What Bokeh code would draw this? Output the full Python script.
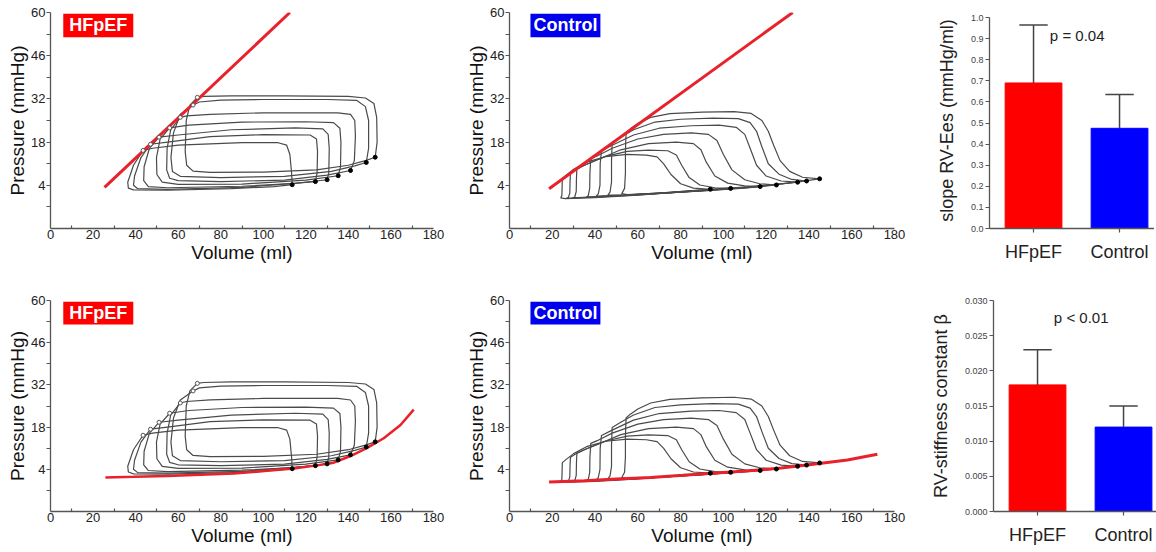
from bokeh.plotting import figure
from bokeh.layouts import column, row
from bokeh.models import Range1d, FixedTicker, Label, BoxAnnotation, NumeralTickFormatter
from bokeh.embed import file_html
from bokeh.resources import INLINE

FONT = "Liberation Sans"

# ---------------- axis ticks ----------------
volume_ticks = [0, 20, 40, 60, 80, 100, 120, 140, 160, 180]
volume_minor = [10, 30, 50, 70, 90, 110, 130, 150, 170]
pressure_ticks = [4, 18, 32, 46, 60]
pressure_minor = [-3, 11, 25, 39, 53]

# ---------------- HFpEF pressure-volume loops (volume ml, pressure mmHg) ----------------
hf_loop1 = [(152.6, 13.1), (153.5, 18), (153.3, 26), (152, 30.5), (148, 32.3), (140, 32.8), (110, 33), (85, 33),
            (72, 32.8), (69, 32.5), (65.5, 30), (63.8, 25), (63.3, 15), (64, 10.5), (67, 8.6), (75, 8.2),
            (100, 8.3), (125, 9), (140, 10.5), (148, 12), (152.6, 13.1)]
hf_loop2 = [(148.4, 11.4), (149.5, 16), (149.5, 25), (148, 29.5), (144, 31.5), (130, 31.8), (100, 31.8),
            (80, 31.6), (70, 31), (67, 30), (61, 27), (57.8, 21), (56.6, 13), (57.3, 8.5), (61, 6.9), (80, 6.5),
            (110, 6.9), (132, 8.5), (143, 10.3), (148.4, 11.4)]
hf_loop3 = [(141, 8.8), (142.8, 12), (143.3, 20), (143, 25), (141, 27), (135, 27.5), (100, 27.5), (75, 27),
            (64, 26.5), (61, 26), (56.5, 22), (54.8, 16), (54.6, 9), (56, 6.3), (60, 5.5), (80, 5.2), (110, 5.7),
            (130, 7.3), (141, 8.8)]
hf_loop4 = [(135.2, 7.1), (136.3, 10), (136.5, 18), (136, 22.5), (133, 24.3), (120, 24.6), (90, 24.5),
            (65, 23.5), (56, 22.6), (51.5, 19), (49.8, 13), (50, 7.5), (52.5, 5), (60, 4.3), (90, 4.4),
            (120, 5.7), (135.2, 7.1)]
hf_loop5 = [(130, 5.8), (130.8, 8), (131, 16), (130.5, 20.5), (128, 22.3), (115, 22.6), (85, 22), (60, 20.3),
            (51, 19.6), (46.5, 16), (44, 10), (43.8, 5.5), (46, 3.6), (55, 3.2), (90, 3.7), (115, 4.6), (130, 5.8)]
hf_loop6 = [(124.5, 5.2), (125.3, 8), (125.5, 15), (125, 19), (122, 20.3), (100, 20.4), (75, 19.8), (55, 18),
            (47, 17.3), (42.5, 13), (39.5, 7), (39, 4), (41, 2.9), (55, 2.7), (90, 3.3), (124.5, 5.2)]
hf_loop7 = [(113.6, 4.2), (113.3, 8), (112.5, 14), (111, 17), (107, 17.8), (90, 17.8), (60, 17), (48, 16),
            (43.5, 15.3), (39, 10.5), (36.3, 5), (36.6, 3.1), (39, 2.5), (55, 2.4), (85, 2.9), (105, 3.6),
            (113.6, 4.2)]

hf_ed_vol = [152.6, 148.4, 141, 135.2, 130, 124.5, 113.6]
hf_ed_pres = [13.1, 11.4, 8.8, 7.1, 5.8, 5.2, 4.2]
hf_es_vol = [69, 67, 61, 56, 51, 47, 43.5]
hf_es_pres = [32.5, 30, 26, 22.6, 19.6, 17.3, 15.3]

hf_espvr_vol = [25.4, 112.5]
hf_espvr_pres = [3.3, 60]
hf_edpvr_vol = [25.8, 39.2, 54.8, 70.5, 86.1, 101.8, 114.3, 125.3, 133.1, 141, 148.8, 156.6, 164.5, 170.7]
hf_edpvr_pres = [1.3, 1.5, 1.8, 2.2, 2.6, 3.5, 4.3, 5.3, 6.2, 8.4, 11.1, 14.3, 18.7, 23.8]

# ---------------- Control pressure-volume loops ----------------
ctl_loop1 = [(145, 6.1), (137, 6.6), (131, 8.5), (126.5, 12), (123.5, 17), (121, 21.5), (118, 25), (113, 27.3),
             (105, 27.9), (90, 27.7), (75, 27.2), (66, 26), (60, 24), (56.5, 22.3), (54.5, 21), (54.2, 15),
             (54.2, 8), (53.8, 3), (52.5, 1.3), (55, 0.95), (70, 1.45), (90, 2.5), (110, 3.4), (130, 4.7),
             (145, 6.1)]
ctl_loop2 = [(138.9, 5.4), (132, 5.9), (126, 7.6), (121, 11), (118, 16.5), (115.5, 21.5), (112.5, 24.3),
             (107, 25.6), (95, 25.8), (80, 25.4), (68, 24.5), (58, 22), (52, 19.6), (48, 17.9), (47.7, 12),
             (47.7, 5), (47, 1.8), (46, 0.8), (55, 0.9), (75, 1.7), (100, 2.9), (120, 3.9), (138.9, 5.4)]
ctl_loop3 = [(134.7, 5.0), (127, 5.4), (120, 7), (115.5, 10.5), (112.5, 16), (110, 20.5), (106, 22.8),
             (98, 23.5), (85, 23.3), (70, 22.5), (58, 20.3), (48, 17), (43, 15.2), (42.4, 11), (42.3, 4),
             (41.5, 1.2), (40.5, 0.5), (55, 0.8), (75, 1.6), (95, 2.5), (115, 3.6), (134.7, 5.0)]
ctl_loop4 = [(124.8, 4.1), (117, 4.5), (110, 5.8), (104, 9), (100, 14), (97, 18.5), (93, 20.5), (85, 21),
             (72, 20.5), (60, 19), (48, 16), (41, 13.5), (38, 12.6), (37.6, 8), (37.5, 3), (36.8, 0.6), (36, 0.2),
             (50, 0.6), (70, 1.4), (90, 2.2), (110, 3.1), (124.8, 4.1)]
ctl_loop5 = [(117.2, 3.6), (110, 3.8), (102, 4.7), (96, 7), (92, 11.5), (89.5, 15.5), (86, 17.5), (78, 18),
             (65, 17.5), (52, 15.5), (42, 12.5), (35, 10.5), (31.5, 9.4), (31.3, 6), (31.2, 2), (30.5, 0.2),
             (29.5, -0.1), (45, 0.4), (65, 1.2), (90, 2.2), (117.2, 3.6)]
ctl_loop6 = [(103.4, 3.0), (96, 3.2), (89, 4.1), (84, 6.5), (80.5, 10.5), (78, 13.8), (74, 15.2), (65, 15.4),
             (55, 15), (45, 13.4), (36, 10.8), (30.5, 8.9), (28.5, 8), (28.3, 5), (28.2, 1.5), (27.5, 0),
             (26.5, -0.2), (40, 0.2), (60, 0.9), (80, 1.8), (103.4, 3.0)]
ctl_loop7 = [(93.9, 2.7), (86, 3.1), (80, 4.5), (75.5, 7.5), (72, 11), (69, 13.2), (64, 13.8), (55, 14),
             (45, 13.3), (36, 11.5), (30, 9.2), (26.5, 7.3), (24.7, 6.2), (24.6, 3.5), (24.5, 0.8), (24, -0.1),
             (26, -0.3), (40, 0), (60, 0.8), (80, 1.9), (93.9, 2.7)]

ctl_ed_vol = [145, 138.9, 134.7, 124.8, 117.2, 103.4, 93.9]
ctl_ed_pres = [6.1, 5.4, 5.0, 4.1, 3.6, 3.0, 2.7]

ctl_espvr_vol = [18.5, 132.4]
ctl_espvr_pres = [2.9, 60]
ctl_edpvr_vol = [18.5, 35, 50, 66, 81, 96.5, 112, 127, 142, 158, 172]
ctl_edpvr_pres = [-0.2, 0.2, 0.8, 1.3, 2.0, 2.8, 3.5, 4.4, 5.7, 7.1, 9.0]

# ---------------- bar charts ----------------
groups = ["HFpEF", "Control"]
group_colors = ["#ff0000", "#0000ff"]
ees_mean = [0.69, 0.475]
ees_sd = [0.275, 0.16]
ees_ticks = [0.0, 0.1, 0.2, 0.3, 0.4, 0.5, 0.6, 0.7, 0.8, 0.9, 1.0]
beta_mean = [0.018, 0.012]
beta_sd = [0.005, 0.003]
beta_ticks = [0.0, 0.005, 0.010, 0.015, 0.020, 0.025, 0.030]

hf_loops = [hf_loop1, hf_loop2, hf_loop3, hf_loop4, hf_loop5, hf_loop6, hf_loop7]
ctl_loops = [ctl_loop1, ctl_loop2, ctl_loop3, ctl_loop4, ctl_loop5, ctl_loop6, ctl_loop7]

RED = "#e8212a"
AXIS = "#555555"

# row geometry (shared by every panel of a row so the rows line up)
ROW1 = dict(fh=216, bt=12, bb=48)
ROW2 = dict(fh=211, bt=24, bb=37)


def pv_panel(loops, ed_v, ed_p, es_v, es_p, red_v, red_p, red_w, tag, tag_color, tag_x0, tag_x1,
             fw, bl, br, geo):
    p = figure(frame_width=fw, frame_height=geo["fh"], x_range=Range1d(0, 180), y_range=Range1d(-10, 60),
               toolbar_location=None, output_backend="svg",
               min_border_left=bl, min_border_right=br, min_border_top=geo["bt"], min_border_bottom=geo["bb"])
    p.outline_line_color = None
    p.xgrid.visible = False
    p.ygrid.visible = False
    p.background_fill_color = "white"
    p.border_fill_color = "white"

    p.xaxis.ticker = FixedTicker(ticks=volume_ticks, minor_ticks=volume_minor)
    p.yaxis.ticker = FixedTicker(ticks=pressure_ticks, minor_ticks=pressure_minor)
    p.xaxis.major_tick_in = 0
    p.xaxis.major_tick_out = 0
    p.xaxis.minor_tick_in = 3
    p.xaxis.minor_tick_out = 0
    p.yaxis.major_tick_in = 0
    p.yaxis.major_tick_out = 4
    p.yaxis.minor_tick_in = 0
    p.yaxis.minor_tick_out = 4
    for ax in (p.xaxis, p.yaxis):
        ax.axis_line_color = AXIS
        ax.axis_line_width = 1.3
        ax.major_tick_line_color = AXIS
        ax.minor_tick_line_color = AXIS
        ax.major_tick_line_width = 1.2
        ax.minor_tick_line_width = 1.2
        ax.major_label_text_font = FONT
        ax.major_label_text_font_size = "13px"
        ax.major_label_text_color = "#222222"
        ax.axis_label_text_font = FONT
        ax.axis_label_text_font_size = "19px"
        ax.axis_label_text_font_style = "normal"
        ax.axis_label_text_color = "#111111"
        ax.major_label_standoff = 1
        ax.axis_label_standoff = 0
    p.xaxis.axis_label = "Volume (ml)"
    p.yaxis.axis_label = "Pressure (mmHg)"

    p.multi_line(xs=[[v for v, _ in lp] for lp in loops], ys=[[q for _, q in lp] for lp in loops],
                 line_color="#4a4a4a", line_width=1.2, line_join="round")
    p.line(red_v, red_p, line_color=RED, line_width=red_w)
    if es_v:
        p.scatter(es_v, es_p, size=4, marker="circle", fill_color="white", line_color="#555555", line_width=1)
    p.scatter(ed_v, ed_p, size=4, marker="circle", fill_color="black", line_color="black")

    box = BoxAnnotation(left=tag_x0, right=tag_x1, top=59.6, bottom=52.0, fill_color=tag_color,
                        fill_alpha=1.0, line_color=None)
    p.add_layout(box)
    p.add_layout(Label(x=(tag_x0 + tag_x1) / 2, y=55.8, text=tag, text_align="center", text_baseline="middle",
                       text_color="white", text_font=FONT, text_font_style="bold", text_font_size="18px"))
    return p


def bar_panel(means, sds, ticks, fmt, ptext, ptext_y, ylabel, y_end, fw, bl, br, geo):
    p = figure(frame_width=fw, frame_height=geo["fh"], x_range=Range1d(-0.512, -0.512 + fw / 86.0),
               y_range=Range1d(0, y_end), toolbar_location=None, output_backend="svg",
               min_border_left=bl, min_border_right=br, min_border_top=geo["bt"], min_border_bottom=geo["bb"])
    p.outline_line_color = None
    p.xgrid.visible = False
    p.ygrid.visible = False
    xs = list(range(len(groups)))
    p.vbar(x=xs, top=means, width=0.66, fill_color=group_colors, line_color=group_colors)
    uppers = [m + s for m, s in zip(means, sds)]
    p.segment(x0=xs, y0=means, x1=xs, y1=uppers, line_color="#444444", line_width=1.5)
    p.segment(x0=[x - 0.165 for x in xs], y0=uppers, x1=[x + 0.165 for x in xs], y1=uppers,
              line_color="#444444", line_width=1.5)

    p.xaxis.ticker = FixedTicker(ticks=xs)
    p.xaxis.major_label_overrides = {i: g for i, g in enumerate(groups)}
    p.yaxis.ticker = FixedTicker(ticks=ticks)
    p.yaxis.formatter = NumeralTickFormatter(format=fmt)
    p.yaxis.bounds = (ticks[0], ticks[-1])
    for ax in (p.xaxis, p.yaxis):
        ax.axis_line_color = AXIS
        ax.axis_line_width = 1.3
        ax.major_tick_line_color = AXIS
        ax.major_tick_line_width = 1.2
        ax.major_tick_in = 0
        ax.major_tick_out = 4
        ax.minor_tick_line_color = None
        ax.major_label_text_font = FONT
    p.yaxis.major_label_text_font_size = "9px"
    p.yaxis.major_label_text_color = "#444444"
    p.yaxis.major_label_standoff = 2
    p.xaxis.major_label_text_font_size = "18px"
    p.xaxis.major_label_text_color = "#222222"
    p.xaxis.major_label_standoff = 9
    p.yaxis.axis_label = ylabel
    p.yaxis.axis_label_text_font = FONT
    p.yaxis.axis_label_text_font_size = "18px"
    p.yaxis.axis_label_text_font_style = "normal"
    p.yaxis.axis_label_text_color = "#222222"
    p.yaxis.axis_label_standoff = 11
    p.add_layout(Label(x=0.19, y=ptext_y, text=ptext, text_align="left", text_baseline="middle",
                       text_font=FONT, text_font_size="15px", text_color="#222222"))
    return p


# ---------------- layout ----------------
p1 = pv_panel(hf_loops, hf_ed_vol, hf_ed_pres, hf_es_vol, hf_es_pres, hf_espvr_vol, hf_espvr_pres, 3,
              "HFpEF", "#ff0000", 6, 38.9, 383, 50, 30, ROW1)
p2 = pv_panel(ctl_loops, ctl_ed_vol, ctl_ed_pres, [], [], ctl_espvr_vol, ctl_espvr_pres, 3,
              "Control", "#0000ee", 9.8, 42.5, 385, 44, 33, ROW1)
p3 = bar_panel(ees_mean, ees_sd, ees_ticks, "0.0", "p = 0.04", 0.914, "slope RV-Ees (mmHg/ml)", 1.024,
               165, 62, 0, ROW1)

p4 = pv_panel(hf_loops, hf_ed_vol, hf_ed_pres, hf_es_vol, hf_es_pres, hf_edpvr_vol, hf_edpvr_pres, 2.5,
              "HFpEF", "#ff0000", 6, 38.9, 383, 50, 30, ROW2)
p5 = pv_panel(ctl_loops, ctl_ed_vol, ctl_ed_pres, [], [], ctl_edpvr_vol, ctl_edpvr_pres, 3,
              "Control", "#0000ee", 9.8, 42.5, 385, 44, 33, ROW2)
p6 = bar_panel(beta_mean, beta_sd, beta_ticks, "0.000", "p < 0.01", 0.0276, "RV-stiffness constant \u03b2",
               0.030, 165, 62, 0, ROW2)

layout = column(row(p1, p2, p3), row(p4, p5, p6))
open("out.html", "w").write(file_html(layout, INLINE))
